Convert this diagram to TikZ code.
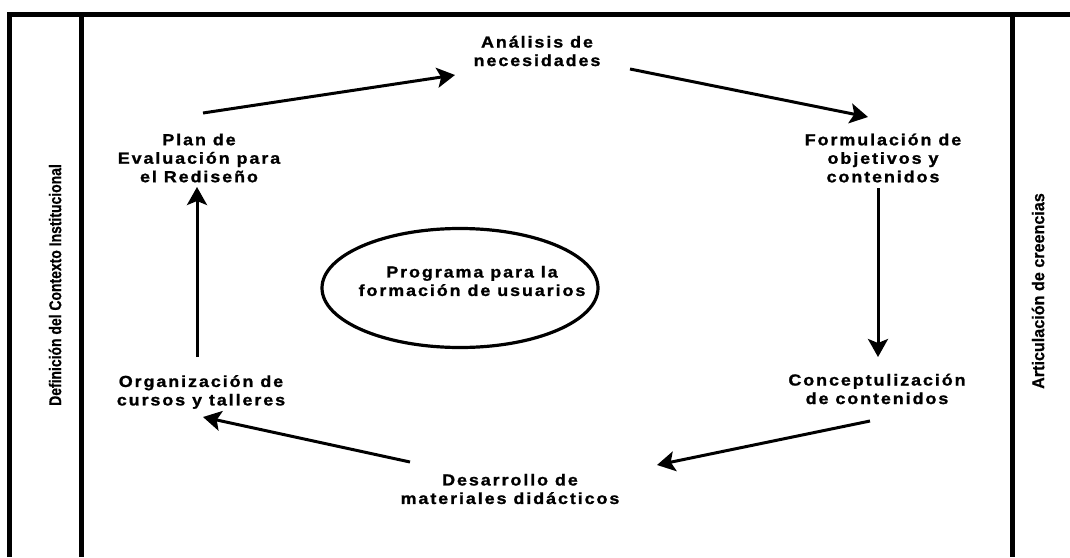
\documentclass[tikz,border=0pt]{standalone}
\usepackage{fontspec}
\setmainfont{Liberation Sans}
\newfontfamily\lblfont{Liberation Sans}[LetterSpace=12,FakeStretch=1.12,FakeBold=1.2]
\newfontfamily\sidefont{Liberation Sans}[FakeStretch=0.82,FakeBold=0.6]
\newfontfamily\sidefontb{Liberation Sans}[FakeStretch=0.95,FakeBold=0.6]
\usetikzlibrary{arrows.meta,shapes.geometric}
\begin{document}
\begin{tikzpicture}[x=1pt,y=-1pt,
  lbl/.style={font=\lblfont\bfseries\fontsize{16}{18.5}\selectfont, align=center, inner sep=0pt},
  side/.style={font=\sidefont\bfseries\fontsize{17}{20}\selectfont, rotate=90, inner sep=0pt},
  sideb/.style={font=\sidefontb\bfseries\fontsize{17}{20}\selectfont, rotate=90, inner sep=0pt},
  frame/.style={line width=5pt},
  arr/.style={line width=3pt, -{Stealth[length=18pt,width=20pt,inset=4pt]}}]
\useasboundingbox (0,0) rectangle (1070,557);
% frame
\draw[frame, miter limit=10] (9.5,557) -- (9.5,14.5) -- (1070,14.5);
\draw[frame] (81.5,14.5) -- (81.5,557);
\draw[frame] (1012,14.5) -- (1012,557);
% side texts
\node[side] (def) at (55,285) {Definición del Contexto Institucional};
\node[sideb] (art) at (1038,291) {Articulación de creencias};
% centre
\node[draw, ellipse, line width=3.2pt, minimum width=276pt, minimum height=119pt, inner sep=0pt] (progshape) at (460,288) {};
\node[lbl] (prog) at (472,281) {Programa para la\\formación de usuarios};
% steps
\node[lbl] (ana) at (537,51) {Análisis de\\necesidades};
\node[lbl] (form) at (883,158) {Formulación de\\objetivos y\\contenidos};
\node[lbl] (conc) at (877,389) {Conceptulización\\de contenidos};
\node[lbl] (des) at (510,489) {Desarrollo de\\materiales didácticos};
\node[lbl] (org) at (201,392) {Organización de\\cursos y talleres};
\node[lbl] (plan) at (199,158) {Plan de\\Evaluación para\\el Rediseño};
% connector ends
\coordinate (a1s) at (203,113); \coordinate (a1e) at (455,75);
\coordinate (a2s) at (630,69);  \coordinate (a2e) at (868,117);
\coordinate (a3s) at (878,188); \coordinate (a3e) at (878,357);
\coordinate (a4s) at (870,421); \coordinate (a4e) at (657,465);
\coordinate (a5s) at (410,462); \coordinate (a5e) at (203,417);
\coordinate (a6s) at (197,357); \coordinate (a6e) at (197,187);
\draw[arr] (a1s) -- (a1e);
\draw[arr] (a2s) -- (a2e);
\draw[arr] (a3s) -- (a3e);
\draw[arr] (a4s) -- (a4e);
\draw[arr] (a5s) -- (a5e);
\draw[arr] (a6s) -- (a6e);
\end{tikzpicture}
\end{document}
